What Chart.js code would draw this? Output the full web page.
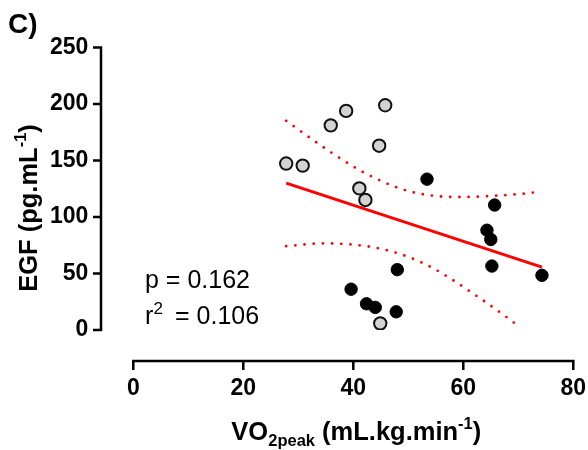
<!DOCTYPE html>
<html>
<head>
<meta charset="utf-8">
<script src="https://cdn.jsdelivr.net/npm/chart.js@4/dist/chart.umd.min.js"></script>
<style>
html,body{margin:0;padding:0;background:#fff;}
canvas{display:block;}
</style>
</head>
<body>
<canvas id="c" width="588" height="450"></canvas>
<script>
// ---- data ----
const grayX = [27.8, 30.8, 35.9, 38.7, 45.8, 44.7, 41.1, 42.2, 44.9];
const grayY = [147.3, 145.5, 181.1, 193.9, 198.9, 163.1, 125.3, 115.1, 5.9];
const blackX = [53.4, 65.7, 64.3, 65.0, 48.0, 65.2, 74.3, 39.6, 42.4, 44.0, 47.8];
const blackY = [133.5, 110.6, 88.3, 80.1, 53.4, 56.6, 48.4, 36.1, 23.2, 20.0, 16.1];
const fitX = [27.8, 74.3];
const fitY = [130.0, 55.7];
const upperX = [27.8, 31.9, 36.1, 40.5, 45.0, 49.8, 54.9, 60.0, 65.1, 70.2, 74.3];
const upperY = [185.1, 170.8, 156.7, 143.2, 132.0, 123.2, 118.6, 117.7, 118.6, 120.3, 122.5];
const lowerX = [27.8, 34.4, 39.6, 44.7, 49.6, 54.3, 58.7, 63.0, 67.2, 70.4];
const lowerY = [74.2, 76.6, 75.7, 72.2, 65.4, 55.2, 42.3, 28.2, 13.8, 2.0];
const xTicks = [0, 20, 40, 60, 80];
const yTicks = [0, 50, 100, 150, 200, 250];
const panelLabel = "C)";
const pText = "p = 0.162";
const r2Value = "= 0.106";

const pts = (xs, ys) => xs.map((x, i) => ({x: x, y: ys[i]}));
const FONT = "'Liberation Sans', Arial, sans-serif";

const zeroPad = s => { s.paddingLeft = 0; s.paddingRight = 0; s.paddingTop = 0; s.paddingBottom = 0; };

const overlay = {
  id: 'overlay',
  afterDraw(chart) {
    const ctx = chart.ctx;
    const xs = chart.scales.x, ys = chart.scales.y;
    const axX = xs.left - 32.3;     // offset y-axis line
    const axY = ys.bottom + 31;     // offset x-axis line
    ctx.save();
    ctx.strokeStyle = '#000';
    ctx.lineWidth = 2.5;
    ctx.lineCap = 'butt';
    // y axis
    ctx.beginPath();
    ctx.moveTo(axX, ys.getPixelForValue(yTicks[yTicks.length-1]) - 1.25);
    ctx.lineTo(axX, ys.getPixelForValue(0) + 1.25);
    yTicks.forEach(v => {
      const p = ys.getPixelForValue(v);
      ctx.moveTo(axX, p);
      ctx.lineTo(axX - 8, p);
    });
    ctx.stroke();
    // x axis
    ctx.beginPath();
    ctx.moveTo(xs.getPixelForValue(xTicks[0]) - 1.25, axY);
    ctx.lineTo(xs.getPixelForValue(xTicks[xTicks.length-1]) + 1.25, axY);
    xTicks.forEach(v => {
      const p = xs.getPixelForValue(v);
      ctx.moveTo(p, axY);
      ctx.lineTo(p, axY + 9);
    });
    ctx.stroke();

    ctx.fillStyle = '#000';
    ctx.textBaseline = 'alphabetic';
    ctx.textAlign = 'left';
    // panel label
    ctx.font = 'bold 28px ' + FONT;
    ctx.fillText(panelLabel, 8, 33);

    // annotation
    ctx.font = '25px ' + FONT;
    ctx.fillText(pText, 145, 288);
    ctx.fillText('r', 145, 324);
    ctx.font = '17px ' + FONT;
    ctx.fillText('2', 153.5, 314);
    ctx.font = '25px ' + FONT;
    ctx.fillText(r2Value, 175, 324);

    // x-axis title with subscript/superscript
    const big = 'bold 25.5px ' + FONT, small = 'bold 16.5px ' + FONT;
    const parts = [
      {t: 'VO', f: big, dy: 0},
      {t: '2peak', f: small, dy: 6},
      {t: ' (mL.kg.min', f: big, dy: 0},
      {t: '-1', f: small, dy: -11},
      {t: ')', f: big, dy: 0}
    ];
    let tw = 0;
    parts.forEach(p => { ctx.font = p.f; p.w = ctx.measureText(p.t).width; tw += p.w; });
    let cx = (xs.left + xs.right) / 2 + 3 - tw / 2;
    parts.forEach(p => { ctx.font = p.f; ctx.fillText(p.t, cx, 440 + p.dy); cx += p.w; });

    // y-axis title (rotated)
    const yparts = [
      {t: 'EGF (pg.mL', f: 'bold 25.5px ' + FONT, dy: 0},
      {t: '-1', f: 'bold 16.5px ' + FONT, dy: -11},
      {t: ')', f: 'bold 25.5px ' + FONT, dy: 0}
    ];
    let yw = 0;
    yparts.forEach(p => { ctx.font = p.f; p.w = ctx.measureText(p.t).width; yw += p.w; });
    ctx.translate(37, 208);
    ctx.rotate(-Math.PI / 2);
    let tx = -yw / 2;
    yparts.forEach(p => { ctx.font = p.f; ctx.fillText(p.t, tx, p.dy); tx += p.w; });
    ctx.restore();
  }
};

new Chart(document.getElementById('c'), {
  type: 'scatter',
  data: {
    datasets: [
      {
        data: pts(grayX, grayY),
        backgroundColor: '#d3d3d3', borderColor: '#111', borderWidth: 2,
        pointRadius: 6.2, pointHoverRadius: 6.2, order: 1
      },
      {
        data: pts(blackX, blackY),
        backgroundColor: '#000', borderColor: '#000', borderWidth: 1,
        pointRadius: 6.2, pointHoverRadius: 6.2, order: 1
      },
      {
        data: pts(fitX, fitY), showLine: true,
        borderColor: '#ff0000', borderWidth: 3, pointRadius: 0, order: 3
      },
      {
        data: pts(upperX, upperY), showLine: true, tension: 0.4,
        cubicInterpolationMode: 'monotone',
        borderColor: '#ff0000', borderWidth: 2.8, borderDash: [0, 9.2],
        borderCapStyle: 'round', pointRadius: 0, order: 2
      },
      {
        data: pts(lowerX, lowerY), showLine: true, tension: 0.4,
        cubicInterpolationMode: 'monotone',
        borderColor: '#ff0000', borderWidth: 2.8, borderDash: [0, 9.2],
        borderCapStyle: 'round', pointRadius: 0, order: 2
      }
    ]
  },
  options: {
    responsive: false,
    animation: false,
    devicePixelRatio: 1,
    layout: { padding: { left: 0, right: 14.7, top: 47.5, bottom: 0 } },
    plugins: { legend: { display: false }, tooltip: { enabled: false } },
    scales: {
      x: {
        type: 'linear', min: 0, max: 80,
        afterFit: s => { s.height = 120; zeroPad(s); },
        afterBuildTicks: s => { s.ticks = xTicks.map(v => ({value: v})); },
        grid: { display: false, drawTicks: false },
        border: { display: false },
        ticks: { color: '#000', padding: 45, font: { family: FONT, size: 23, weight: 'bold' } }
      },
      y: {
        type: 'linear', min: 0, max: 250,
        afterFit: s => { s.width = 133.3; zeroPad(s); },
        afterBuildTicks: s => { s.ticks = yTicks.map(v => ({value: v})); },
        grid: { display: false, drawTicks: false },
        border: { display: false },
        ticks: { color: '#000', padding: 45, font: { family: FONT, size: 23, weight: 'bold' } }
      }
    }
  },
  plugins: [overlay]
});
</script>
</body>
</html>
